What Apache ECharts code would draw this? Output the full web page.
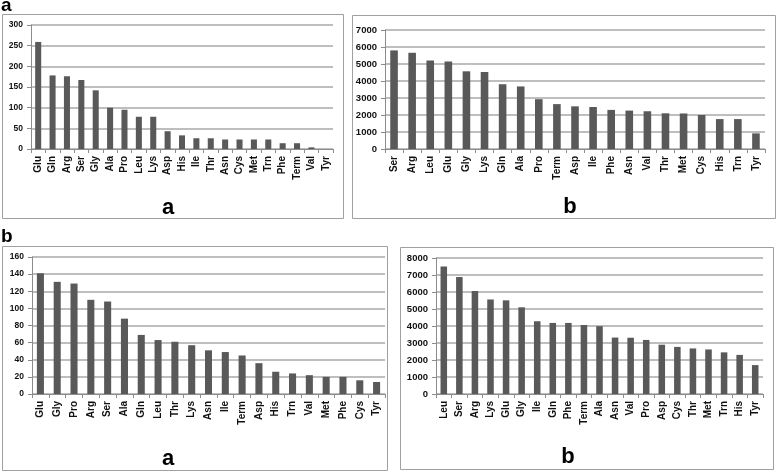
<!DOCTYPE html>
<html><head><meta charset="utf-8">
<script src="https://cdn.jsdelivr.net/npm/echarts@6/dist/echarts.min.js"></script>
<style>html,body{margin:0;padding:0;background:#fff}#c{width:778px;height:474px}</style>
</head><body><div id="c"></div>
<script>
// Panel 1 (top-left, "a")
const cats1 = ["Glu","Gln","Arg","Ser","Gly","Ala","Pro","Leu","Lys","Asp","His","Ile","Thr","Asn","Cys","Met","Trn","Phe","Term","Val","Tyr"];
const vals1 = [259,178,176,167,142,100,95,78,78,43,33,26,26,23,23,23,23,14,14,4,0];
// Panel 2 (top-right, "b")
const cats2 = ["Ser","Arg","Leu","Glu","Gly","Lys","Gln","Ala","Pro","Term","Asp","Ile","Phe","Asn","Val","Thr","Met","Cys","His","Trn","Tyr"];
const vals2 = [5800,5660,5200,5150,4570,4530,3810,3680,2930,2640,2510,2470,2300,2260,2220,2100,2090,2000,1760,1760,920];
// Panel 3 (bottom-left, "a")
const cats3 = ["Glu","Gly","Pro","Arg","Ser","Ala","Gln","Leu","Thr","Lys","Asn","Ile","Term","Asp","His","Trn","Val","Met","Phe","Cys","Tyr"];
const vals3 = [141,131,129,110,108,88,69,63,61,57,51,49,45,36,26,24,22,20,20,16,14];
// Panel 4 (bottom-right, "b")
const cats4 = ["Leu","Ser","Arg","Lys","Glu","Gly","Ile","Gln","Phe","Term","Ala","Asn","Val","Pro","Asp","Cys","Thr","Met","Trn","His","Tyr"];
const vals4 = [7500,6880,6060,5560,5510,5100,4280,4180,4180,4060,3990,3320,3310,3180,2900,2770,2680,2620,2450,2300,1700];
// Y axis ranges
const yMax = [300, 7000, 160, 8000];
const yStep = [50, 1000, 20, 1000];
const panelLabels = ["a","b","a","b"];

const grids = [
  {l:31, t:25, r:333, b:149},
  {l:385, t:30, r:765, b:149},
  {l:32, t:257, r:385, b:394},
  {l:436, t:258, r:763, b:394}
];
const yFont = [8.5, 9.5, 8.5, 9.5];
const cats = [cats1,cats2,cats3,cats4];
const vals = [vals1,vals2,vals3,vals4];

const option = {
  animation:false,
  backgroundColor:'#fff',
  grid: grids.map(g=>({left:g.l, top:g.t, width:g.r-g.l, height:g.b-g.t, containLabel:false})),
  xAxis: cats.map((c,i)=>({
    type:'category', gridIndex:i, data:c,
    axisLine:{lineStyle:{color:'#8c8c8c', width:1}},
    axisTick:{show:true, length:4, lineStyle:{color:'#8c8c8c'}},
    axisLabel:{rotate:90, interval:0, margin:7, fontFamily:'Liberation Sans, Arial', fontWeight:'bold', fontSize:10, color:'#111'}
  })),
  yAxis: yMax.map((m,i)=>({
    type:'value', gridIndex:i, min:0, max:m, interval:yStep[i],
    axisLine:{show:true, lineStyle:{color:'#8c8c8c', width:1}},
    axisTick:{show:true, length:4, lineStyle:{color:'#8c8c8c'}},
    splitLine:{lineStyle:{color:'#a8a8a8', width:1.5}},
    axisLabel:{margin:8, formatter:v=>String(v), fontFamily:'Liberation Sans, Arial', fontWeight:'bold', fontSize:yFont[i], color:'#111'}
  })),
  series: vals.map((v,i)=>({
    type:'bar', xAxisIndex:i, yAxisIndex:i, data:v,
    barWidth:'42%',
    itemStyle:{color:'#595959'}
  })),
  graphic: [
    {type:'rect', shape:{x:2.5, y:14.5, width:341, height:204}, style:{fill:'none', stroke:'#a0a0a0', lineWidth:1}},
    {type:'rect', shape:{x:352.5, y:15.5, width:423, height:203}, style:{fill:'none', stroke:'#a0a0a0', lineWidth:1}},
    {type:'rect', shape:{x:2.5, y:246.5, width:385, height:224}, style:{fill:'none', stroke:'#a0a0a0', lineWidth:1}},
    {type:'rect', shape:{x:400.5, y:247.5, width:373, height:222}, style:{fill:'none', stroke:'#a0a0a0', lineWidth:1}},
    {type:'text', left:1, top:-4, style:{text:'a', font:'bold 19px Liberation Sans, Arial', fill:'#000'}},
    {type:'text', left:1, top:227, style:{text:'b', font:'bold 19px Liberation Sans, Arial', fill:'#000'}},
    {type:'text', x:168, y:208, style:{text:panelLabels[0], font:'bold 22px Liberation Sans, Arial', fill:'#000', align:'center', verticalAlign:'middle'}},
    {type:'text', x:570, y:207, style:{text:panelLabels[1], font:'bold 22px Liberation Sans, Arial', fill:'#000', align:'center', verticalAlign:'middle'}},
    {type:'text', x:168, y:459, style:{text:panelLabels[2], font:'bold 22px Liberation Sans, Arial', fill:'#000', align:'center', verticalAlign:'middle'}},
    {type:'text', x:568, y:457, style:{text:panelLabels[3], font:'bold 22px Liberation Sans, Arial', fill:'#000', align:'center', verticalAlign:'middle'}}
  ]
};
const chart = echarts.init(document.getElementById('c'), null, {renderer:'canvas'});
chart.setOption(option);
</script></body></html>
